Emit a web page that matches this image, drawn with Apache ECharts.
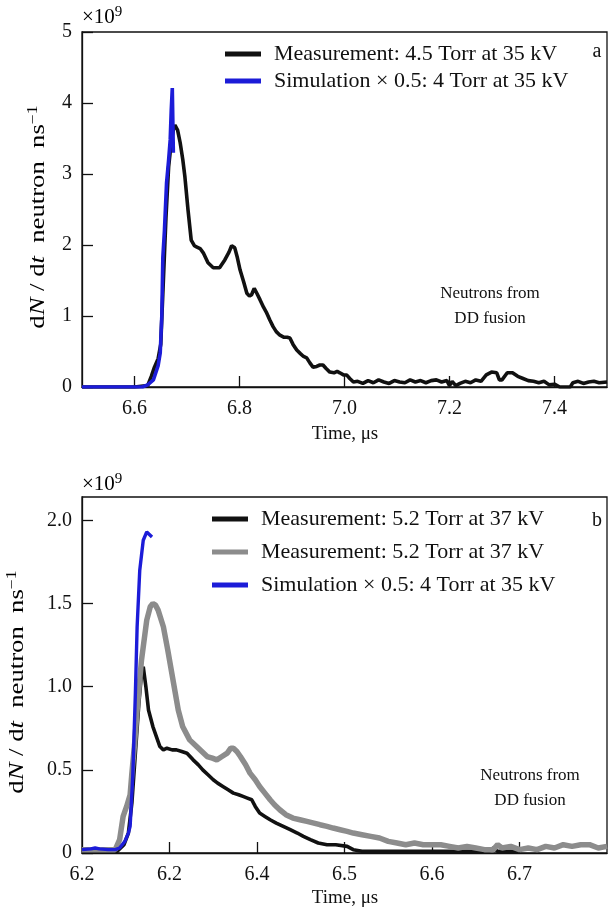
<!DOCTYPE html>
<html>
<head>
<meta charset="utf-8">
<script src="https://cdn.jsdelivr.net/npm/echarts@6/dist/echarts.min.js"></script>
<style>
html,body{margin:0;padding:0;background:#fff;}
#chart{width:608px;height:916px;}
</style>
</head>
<body>
<div id="chart"></div>
<script>
// ---------- Panel (a) ----------
var measA_t = [6.50,6.60,6.625,6.632,6.638,6.645,6.650,6.655,6.660,6.665,6.670,6.674,6.677,6.682,6.687,6.692,6.696,6.702,6.708,6.714,6.719,6.725,6.731,6.740,6.750,6.762,6.772,6.780,6.785,6.791,6.796,6.801,6.808,6.814,6.819,6.823,6.828,6.833,6.839,6.846,6.852,6.858,6.864,6.870,6.877,6.885,6.891,6.896,6.902,6.909,6.916,6.922,6.928,6.934,6.940,6.947,6.953,6.959,6.965,6.972,6.980,6.986,6.991,6.998,7.004,7.010,7.017,7.025,7.035,7.045,7.055,7.065,7.075,7.085,7.095,7.105,7.115,7.125,7.135,7.145,7.155,7.165,7.175,7.185,7.195,7.200,7.205,7.212,7.220,7.230,7.240,7.250,7.260,7.270,7.280,7.290,7.295,7.300,7.310,7.320,7.330,7.340,7.350,7.360,7.370,7.380,7.390,7.400,7.410,7.420,7.430,7.435,7.445,7.455,7.465,7.475,7.485,7.500];
var measA_v = [0,0,0.02,0.15,0.28,0.40,0.60,1.5,2.4,3.1,3.45,3.62,3.69,3.62,3.44,3.2,2.96,2.49,2.07,1.99,1.97,1.95,1.89,1.75,1.68,1.68,1.79,1.90,1.99,1.96,1.82,1.65,1.48,1.32,1.28,1.30,1.39,1.32,1.23,1.12,1.04,0.94,0.85,0.78,0.73,0.70,0.70,0.69,0.60,0.52,0.47,0.43,0.41,0.34,0.28,0.29,0.31,0.31,0.26,0.21,0.20,0.22,0.20,0.17,0.17,0.12,0.07,0.08,0.05,0.09,0.06,0.10,0.07,0.05,0.09,0.07,0.06,0.10,0.07,0.09,0.06,0.09,0.10,0.07,0.09,0.02,0.08,0.02,0.05,0.08,0.06,0.10,0.08,0.17,0.21,0.20,0.10,0.10,0.20,0.20,0.15,0.12,0.09,0.08,0.06,0.08,0.03,0.04,0.0,0.0,0.0,0.06,0.08,0.05,0.07,0.08,0.06,0.07];
var simA_t = [6.50,6.55,6.60,6.615,6.625,6.636,6.645,6.649,6.652,6.654,6.657,6.661,6.665,6.668,6.670,6.672,6.674];
var simA_v = [0,0,0,0,0.03,0.10,0.30,0.48,1.0,1.83,2.2,2.87,3.2,3.48,3.9,4.21,3.3];
var xTicksA = [6.6,6.8,7.0,7.2,7.4];
var yTicksA = [0,1,2,3,4,5];

// ---------- Panel (b) ----------
var meas1B_t = [6.20,6.24,6.248,6.253,6.257,6.261,6.265,6.268,6.270,6.273,6.276,6.281,6.285,6.289,6.293,6.297,6.303,6.308,6.314,6.320,6.327,6.333,6.338,6.344,6.350,6.355,6.361,6.367,6.373,6.379,6.384,6.389,6.394,6.398,6.403,6.409,6.415,6.422,6.430,6.438,6.446,6.453,6.461,6.470,6.480,6.490,6.503,6.510,6.520,6.550,6.600,6.650,6.665,6.670,6.675,6.700];
var meas1B_v = [0.01,0.01,0.05,0.12,0.30,0.60,0.90,1.08,1.12,1.0,0.86,0.76,0.70,0.64,0.62,0.63,0.62,0.62,0.61,0.60,0.56,0.53,0.50,0.47,0.44,0.42,0.40,0.38,0.36,0.35,0.34,0.33,0.32,0.28,0.24,0.22,0.20,0.18,0.16,0.14,0.12,0.10,0.08,0.06,0.05,0.05,0.04,0.02,0.01,0.01,0.01,0.01,0.01,0.03,0.01,0.01];
var meas2B_t = [6.20,6.238,6.243,6.247,6.251,6.255,6.257,6.260,6.263,6.268,6.274,6.278,6.281,6.284,6.287,6.293,6.298,6.304,6.310,6.315,6.323,6.331,6.337,6.343,6.349,6.354,6.360,6.366,6.370,6.373,6.377,6.381,6.387,6.392,6.398,6.403,6.409,6.415,6.420,6.426,6.433,6.441,6.449,6.457,6.465,6.472,6.480,6.487,6.495,6.503,6.510,6.520,6.530,6.540,6.550,6.560,6.570,6.580,6.590,6.600,6.610,6.620,6.630,6.640,6.650,6.660,6.670,6.675,6.680,6.690,6.700,6.710,6.720,6.730,6.740,6.750,6.760,6.770,6.780,6.790,6.800];
var meas2B_v = [0.02,0.02,0.08,0.22,0.28,0.35,0.48,0.65,0.86,1.16,1.40,1.48,1.50,1.49,1.46,1.36,1.22,1.04,0.86,0.76,0.68,0.64,0.61,0.58,0.57,0.56,0.58,0.60,0.63,0.63,0.61,0.58,0.53,0.48,0.44,0.40,0.36,0.32,0.29,0.26,0.23,0.21,0.20,0.19,0.18,0.17,0.16,0.15,0.14,0.13,0.12,0.11,0.10,0.09,0.07,0.06,0.05,0.06,0.05,0.05,0.05,0.04,0.03,0.04,0.03,0.02,0.02,0.05,0.03,0.04,0.02,0.03,0.02,0.04,0.03,0.05,0.04,0.05,0.05,0.03,0.04];
var simB_t = [6.20,6.21,6.215,6.22,6.23,6.238,6.243,6.249,6.253,6.255,6.258,6.261,6.263,6.266,6.270,6.274,6.280];
var simB_v = [0.02,0.025,0.03,0.025,0.02,0.02,0.03,0.07,0.12,0.16,0.46,0.96,1.36,1.70,1.88,1.93,1.90];
var xTicksB = [6.3,6.4,6.5,6.6,6.7];
var xLabelValsB = [6.2,6.3,6.4,6.5,6.6,6.7];
var xLabelTextB = ['6.2','6.2','6.4','6.5','6.6','6.7'];
var yTicksB = [0,0.5,1.0,1.5,2.0];

var nameMeasA = 'Measurement: 4.5 Torr at 35 kV';
var nameSim = 'Simulation \u00d7 0.5: 4 Torr at 35 kV';
var nameMeasB1 = 'Measurement: 5.2 Torr at 37 kV';
var nameMeasB2 = 'Measurement: 5.2 Torr at 37 kV ';

function zip(t, v){ return t.map(function(x,i){ return [x, v[i]]; }); }

var FONT = '"Liberation Serif", "Times New Roman", serif';
var BLACK = '#111111', BLUE = '#1c1cd8', GRAY = '#8c8c8c';

var axisCommon = {
  axisLine: {show: true, onZero: false, lineStyle: {color: '#111', width: 1.3}},
  splitLine: {show: false},
  axisTick: {show: true, inside: true, length: 11, lineStyle: {color: '#111', width: 1.3}},
  axisLabel: {color: '#111', fontFamily: FONT, fontSize: 20}
};
function merge(a, b){ return Object.assign({}, a, b); }

var chart = echarts.init(document.getElementById('chart'), null, {renderer: 'canvas'});

var ynameRich = {
  r: {fontFamily: FONT, fontSize: 21, color: '#111'},
  i: {fontFamily: FONT, fontSize: 21, fontStyle: 'italic', color: '#111'},
  s: {fontFamily: FONT, fontSize: 14, color: '#111', verticalAlign: 'top', lineHeight: 24}
};
var yNameText = '{r|d}{i|N}{r| / d}{i|t}{r|  neutron  ns}{s|\u22121}';
var expRich = {
  a: {fontFamily: FONT, fontSize: 21, color: '#111', lineHeight: 24},
  b: {fontFamily: FONT, fontSize: 15, color: '#111', verticalAlign: 'top', lineHeight: 24}
};
var legendText = {fontFamily: FONT, fontSize: 22, color: '#111', lineHeight: 22, padding: [0,0,0,8]};

var option = {
  animation: false,
  backgroundColor: '#ffffff',
  grid: [
    {left: 82, top: 32, width: 525, height: 355, show: true, borderColor: '#111', borderWidth: 1.3, backgroundColor: 'transparent'},
    {left: 82, top: 497, width: 525, height: 356, show: true, borderColor: '#111', borderWidth: 1.3, backgroundColor: 'transparent'}
  ],
  xAxis: [
    merge(axisCommon, {type: 'value', gridIndex: 0, min: 6.5, max: 7.5,
      axisTick: merge(axisCommon.axisTick, {customValues: xTicksA}),
      axisLabel: merge(axisCommon.axisLabel, {customValues: xTicksA, margin: 12, formatter: function(v){ return v.toFixed(1); }})}),
    merge(axisCommon, {type: 'value', gridIndex: 1, min: 6.2, max: 6.8,
      axisTick: merge(axisCommon.axisTick, {customValues: xTicksB}),
      axisLabel: merge(axisCommon.axisLabel, {customValues: xLabelValsB, margin: 12, formatter: function(v){
        for (var k = 0; k < xLabelValsB.length; k++) { if (Math.abs(xLabelValsB[k] - v) < 1e-6) return xLabelTextB[k]; }
        return ''; }})})
  ],
  yAxis: [
    merge(axisCommon, {type: 'value', gridIndex: 0, min: 0, max: 5,
      axisTick: merge(axisCommon.axisTick, {customValues: yTicksA}),
      axisLabel: merge(axisCommon.axisLabel, {customValues: yTicksA, margin: 10, formatter: function(v){ return String(v); }})}),
    merge(axisCommon, {type: 'value', gridIndex: 1, min: 0, max: 2.14,
      axisTick: merge(axisCommon.axisTick, {customValues: yTicksB}),
      axisLabel: merge(axisCommon.axisLabel, {customValues: yTicksB, margin: 10, formatter: function(v){ return v === 0 ? '0' : v.toFixed(1); }})})
  ],
  legend: [
    {orient: 'vertical', left: 220, top: 38, itemWidth: 36, itemHeight: 5, itemGap: 5, icon: 'rect',
      selectedMode: false, data: [nameMeasA, nameSim], textStyle: legendText},
    {orient: 'vertical', left: 207, top: 503, itemWidth: 36, itemHeight: 5, itemGap: 11, icon: 'rect',
      selectedMode: false, data: [nameMeasB1, nameMeasB2, nameSim], textStyle: legendText}
  ],
  series: [
    {name: nameMeasA, type: 'line', xAxisIndex: 0, yAxisIndex: 0, data: zip(measA_t, measA_v),
      showSymbol: false, lineStyle: {color: BLACK, width: 3.6}, itemStyle: {color: BLACK}, z: 2},
    {name: nameSim, type: 'line', xAxisIndex: 0, yAxisIndex: 0, data: zip(simA_t, simA_v),
      showSymbol: false, lineStyle: {color: BLUE, width: 3.6}, itemStyle: {color: BLUE}, z: 3},
    {name: nameMeasB1, type: 'line', xAxisIndex: 1, yAxisIndex: 1, data: zip(meas1B_t, meas1B_v),
      showSymbol: false, lineStyle: {color: BLACK, width: 3.6}, itemStyle: {color: BLACK}, z: 2},
    {name: nameMeasB2, type: 'line', xAxisIndex: 1, yAxisIndex: 1, data: zip(meas2B_t, meas2B_v),
      showSymbol: false, lineStyle: {color: GRAY, width: 5.5}, itemStyle: {color: GRAY}, z: 3},
    {name: nameSim, type: 'line', xAxisIndex: 1, yAxisIndex: 1, data: zip(simB_t, simB_v),
      showSymbol: false, lineStyle: {color: BLUE, width: 3.4}, itemStyle: {color: BLUE}, z: 4}
  ],
  graphic: [
    {type: 'text', left: 82, top: 5, style: {text: '{a|\u00d710}{b|9}', rich: expRich}},
    {type: 'text', left: 82, top: 472, style: {text: '{a|\u00d710}{b|9}', rich: expRich}},
    {type: 'text', x: 597, y: 52, style: {text: 'a', fontFamily: FONT, fontSize: 20, fill: '#111', align: 'center', verticalAlign: 'middle'}},
    {type: 'text', x: 597, y: 521, style: {text: 'b', fontFamily: FONT, fontSize: 20, fill: '#111', align: 'center', verticalAlign: 'middle'}},
    {type: 'text', x: 490, y: 306, style: {text: 'Neutrons from\nDD fusion', fontFamily: FONT, fontSize: 17, lineHeight: 25, fill: '#111', align: 'center', verticalAlign: 'middle'}},
    {type: 'text', x: 530, y: 788, style: {text: 'Neutrons from\nDD fusion', fontFamily: FONT, fontSize: 17, lineHeight: 25, fill: '#111', align: 'center', verticalAlign: 'middle'}},
    {type: 'text', x: 38, y: 217, rotation: Math.PI / 2, scaleX: 1.27, style: {text: yNameText, rich: ynameRich, align: 'center', verticalAlign: 'middle'}},
    {type: 'text', x: 17, y: 682, rotation: Math.PI / 2, scaleX: 1.27, style: {text: yNameText, rich: ynameRich, align: 'center', verticalAlign: 'middle'}},
    {type: 'text', x: 345, y: 434, style: {text: 'Time, \u03bcs', fontFamily: FONT, fontSize: 19, fill: '#111', align: 'center', verticalAlign: 'middle'}},
    {type: 'text', x: 345, y: 898, style: {text: 'Time, \u03bcs', fontFamily: FONT, fontSize: 19, fill: '#111', align: 'center', verticalAlign: 'middle'}}
  ]
};
chart.setOption(option);
</script>
</body>
</html>
